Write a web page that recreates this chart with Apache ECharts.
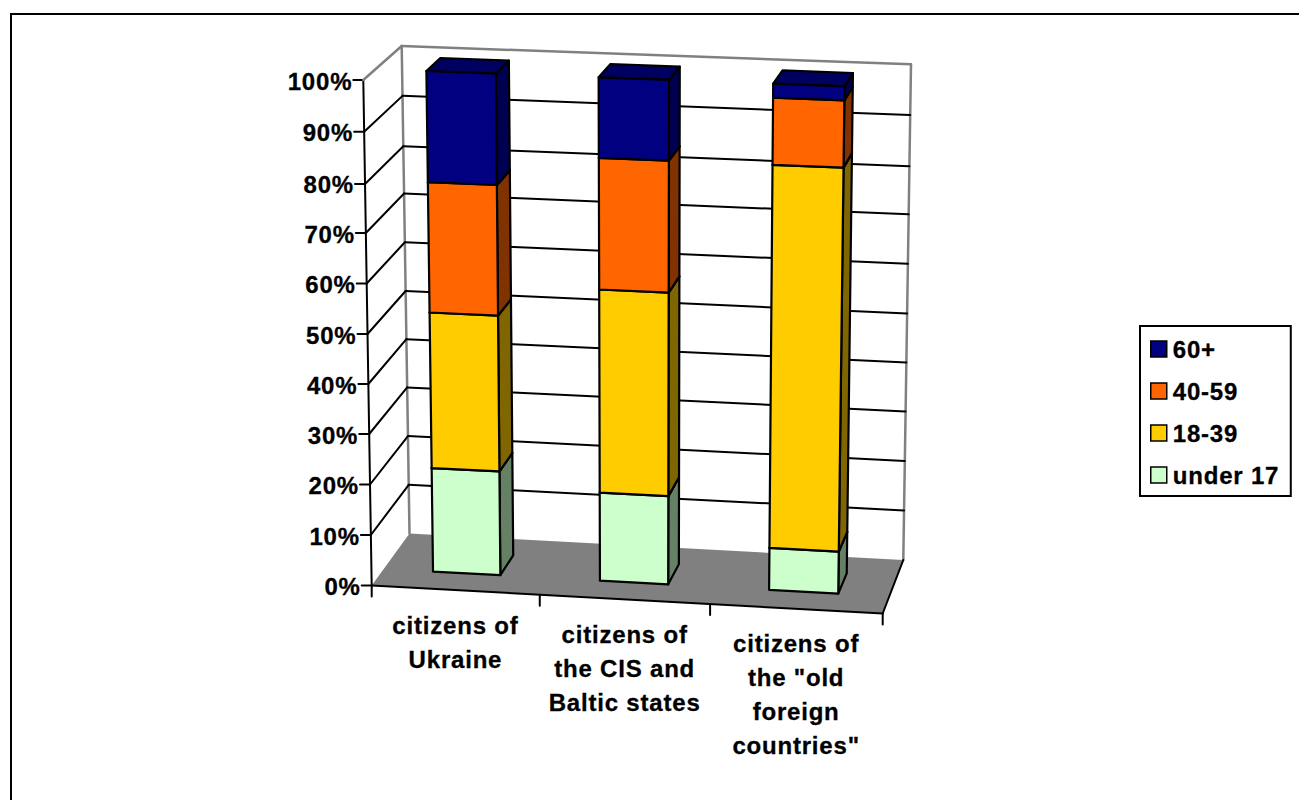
<!DOCTYPE html>
<html>
<head>
<meta charset="utf-8">
<style>
html,body{margin:0;padding:0;background:#fff}
#c{width:1299px;height:800px}
#c svg text{letter-spacing:0.8px;stroke:#000;stroke-width:0.3px}
</style>
<script src="https://cdn.jsdelivr.net/npm/echarts@6/dist/echarts.min.js"></script>
</head>
<body>
<div id="c"></div>
<script>
const categories = ['citizens of\nUkraine', 'citizens of\nthe CIS and\nBaltic states', 'citizens of\nthe "old\nforeign\ncountries"'];
const under17 = [20.7, 17.5, 8.3];
const age18to39 = [31.3, 40.6, 76.1];
const age40to59 = [26.3, 26.3, 12.9];
const age60plus = [21.7, 15.6, 2.7];
const yTicks = [0, 10, 20, 30, 40, 50, 60, 70, 80, 90, 100];
const legendOrder = ['60+', '40-59', '18-39', 'under 17'];

const FONT = 'bold 24px "Liberation Sans", Arial, sans-serif';
const BOX = {
  f00: [371.7, 585.5], f10: [882.7, 613.5], f01: [363.3, 80], f11: [890.7, 99.5],
  b00: [409.5, 533.5], b10: [903.3, 560], b01: [401.7, 46], b11: [911, 64.3]
};
const GRID = { left: 372, top: 80, width: 511, height: 506 };
const BAR_W = 0.135, Z0 = 0.32, Z1 = 0.70, U_BOW = 0.02;
// slight perspective of the height scale: share of the edge reached at each 10% step
const V_STEPS = [0, 0.0999, 0.1998, 0.2997, 0.3986, 0.4975, 0.5974, 0.6973, 0.7943, 0.8977, 1];

function lerp(a, b, t) { return [a[0] + (b[0] - a[0]) * t, a[1] + (b[1] - a[1]) * t]; }
function warpV(v) {
  const s = Math.max(0, Math.min(9.9999, v * 10)), k = Math.floor(s);
  return V_STEPS[k] + (V_STEPS[k + 1] - V_STEPS[k]) * (s - k);
}
function project(u0, v0, z) {
  const u = u0 - U_BOW * u0 * (1 - u0), v = warpV(v0);
  const f = lerp(lerp(BOX.f00, BOX.f10, u), lerp(BOX.f01, BOX.f11, u), v);
  const b = lerp(lerp(BOX.b00, BOX.b10, u), lerp(BOX.b01, BOX.b11, u), v);
  return lerp(f, b, z);
}
function toUV(pt, cs) { return [(pt[0] - cs.x) / cs.width, (cs.y + cs.height - pt[1]) / cs.height]; }

function barSeries(name, values, front, side, topc, below) {
  return {
    name, type: 'custom', coordinateSystem: 'cartesian2d', clip: false, silent: true,
    itemStyle: { color: front },
    encode: { x: 0, y: [1, 2] },
    data: values.map((v, i) => [i, below[i], below[i] + v]),
    renderItem(params, api) {
      const cs = params.coordSys;
      const i = api.value(0);
      const lo = toUV(api.coord([i, api.value(1)]), cs);
      const hi = toUV(api.coord([i, api.value(2)]), cs);
      const u0 = lo[0] - BAR_W / 2, u1 = lo[0] + BAR_W / 2;
      const v0 = lo[1], v1 = hi[1];
      const poly = (pts, fill) => ({
        type: 'polygon', shape: { points: pts },
        style: { fill, stroke: '#000', lineWidth: 2.2, lineJoin: 'round' }
      });
      return {
        type: 'group', children: [
          poly([project(u1, v0, Z0), project(u1, v0, Z1), project(u1, v1, Z1), project(u1, v1, Z0)], side),
          poly([project(u0, v1, Z0), project(u1, v1, Z0), project(u1, v1, Z1), project(u0, v1, Z1)], topc),
          poly([project(u0, v0, Z0), project(u1, v0, Z0), project(u1, v1, Z0), project(u0, v1, Z0)], front)
        ]
      };
    }
  };
}

function seg(a, b, stroke, w) {
  return { type: 'line', shape: { x1: a[0], y1: a[1], x2: b[0], y2: b[1] }, style: { stroke, lineWidth: w, lineCap: 'round' } };
}

const floorSeries = {
  type: 'custom', coordinateSystem: 'cartesian2d', clip: false, silent: true,
  data: [[0, 0]],
  renderItem() {
    const a = project(0, 0, 0), b = project(1, 0, 0), c = project(1, 0, 1), d = project(0, 0, 1);
    return {
      type: 'group', children: [
        { type: 'polygon', shape: { points: [a, b, c, d] }, style: { fill: '#808080' } },
        seg(project(0, 0, 1), project(0, 1, 1), '#808080', 2.5),
        seg(project(1, 0, 1), project(1, 1, 1), '#808080', 2.5),
        seg(a, b, '#000', 2),
        seg(b, c, '#000', 2),
        seg(project(0, 0, 0), project(0, 1, 0), '#000', 2)
      ]
    };
  }
};

const wallSeries = {
  type: 'custom', coordinateSystem: 'cartesian2d', clip: false, silent: true,
  encode: { x: 0, y: 1 },
  data: yTicks.map(t => [0, t]),
  renderItem(params, api) {
    const cs = params.coordSys;
    const t = api.value(1);
    const v = toUV(api.coord([0, t]), cs)[1];
    const a = project(0, v, 0), b = project(0, v, 1), c = project(1, v, 1);
    const col = (t === 0 || t === 100) ? '#808080' : '#000';
    const w = (t === 0 || t === 100) ? 2.5 : 2;
    const kids = [
      seg(a, [a[0] - 10, a[1]], '#000', 2),
      { type: 'text', style: { text: t + '%', x: a[0] - 11, y: a[1] + 1, align: 'right', verticalAlign: 'middle', font: FONT, fill: '#000' } }
    ];
    if (t !== 0) { kids.push(seg(a, b, col, w), seg(b, c, col, w)); }
    return { type: 'group', children: kids };
  }
};

const catSeries = {
  type: 'custom', coordinateSystem: 'cartesian2d', clip: false, silent: true,
  encode: { x: 0, y: 1 },
  data: categories.map((c, i) => [i, 0]),
  renderItem(params, api) {
    const cs = params.coordSys;
    const i = api.value(0);
    const uv = toUV(api.coord([i, 0]), cs);
    const p = project(uv[0], 0, 0);
    const halfBand = api.size([1, 0])[0] / cs.width / 2;
    const kids = [{ type: 'text', style: { text: categories[i], x: p[0], y: p[1] + 18, align: 'center', verticalAlign: 'top', font: FONT, lineHeight: 34, fill: '#000' } }];
    const t0 = project(uv[0] - halfBand, 0, 0);
    kids.push(seg(t0, [t0[0], t0[1] + 11], '#000', 2));
    if (i === categories.length - 1) {
      const t1 = project(uv[0] + halfBand, 0, 0);
      kids.push(seg(t1, [t1[0], t1[1] + 11], '#000', 2));
    }
    return { type: 'group', children: kids };
  }
};

const base0 = categories.map(() => 0);
const base1 = under17.slice();
const base2 = base1.map((b, i) => b + age18to39[i]);
const base3 = base2.map((b, i) => b + age40to59[i]);

const chart = echarts.init(document.getElementById('c'), null, { renderer: 'svg', width: 1299, height: 800 });
chart.setOption({
  animation: false,
  backgroundColor: '#fff',
  grid: GRID,
  xAxis: { type: 'category', data: categories, show: false },
  yAxis: { type: 'value', min: 0, max: 100, interval: 10, show: false },
  legend: {
    data: legendOrder, orient: 'vertical', left: 1140, top: 326, icon: 'rect',
    itemWidth: 16, itemHeight: 16, itemGap: 18, padding: [11, 18, 9, 10],
    selectedMode: false, backgroundColor: '#fff', borderColor: '#000', borderWidth: 2, borderRadius: 0,
    itemStyle: { borderColor: '#000', borderWidth: 1.5 },
    textStyle: { fontFamily: '"Liberation Sans", Arial, sans-serif', fontWeight: 'bold', fontSize: 24, color: '#000', padding: [0, 0, 0, 1] }
  },
  graphic: [
    { type: 'line', shape: { x1: 11, y1: 14, x2: 1299, y2: 14 }, style: { stroke: '#000', lineWidth: 2 }, silent: true },
    { type: 'line', shape: { x1: 11, y1: 13, x2: 11, y2: 800 }, style: { stroke: '#000', lineWidth: 2 }, silent: true }
  ],
  series: [
    floorSeries,
    wallSeries,
    catSeries,
    barSeries('under 17', under17, '#CCFFCC', '#668066', '#99BF99', base0),
    barSeries('18-39', age18to39, '#FFCC00', '#806600', '#BF9900', base1),
    barSeries('40-59', age40to59, '#FF6600', '#803300', '#BF4D00', base2),
    barSeries('60+', age60plus, '#000080', '#000050', '#000060', base3)
  ]
});
</script>
</body>
</html>
